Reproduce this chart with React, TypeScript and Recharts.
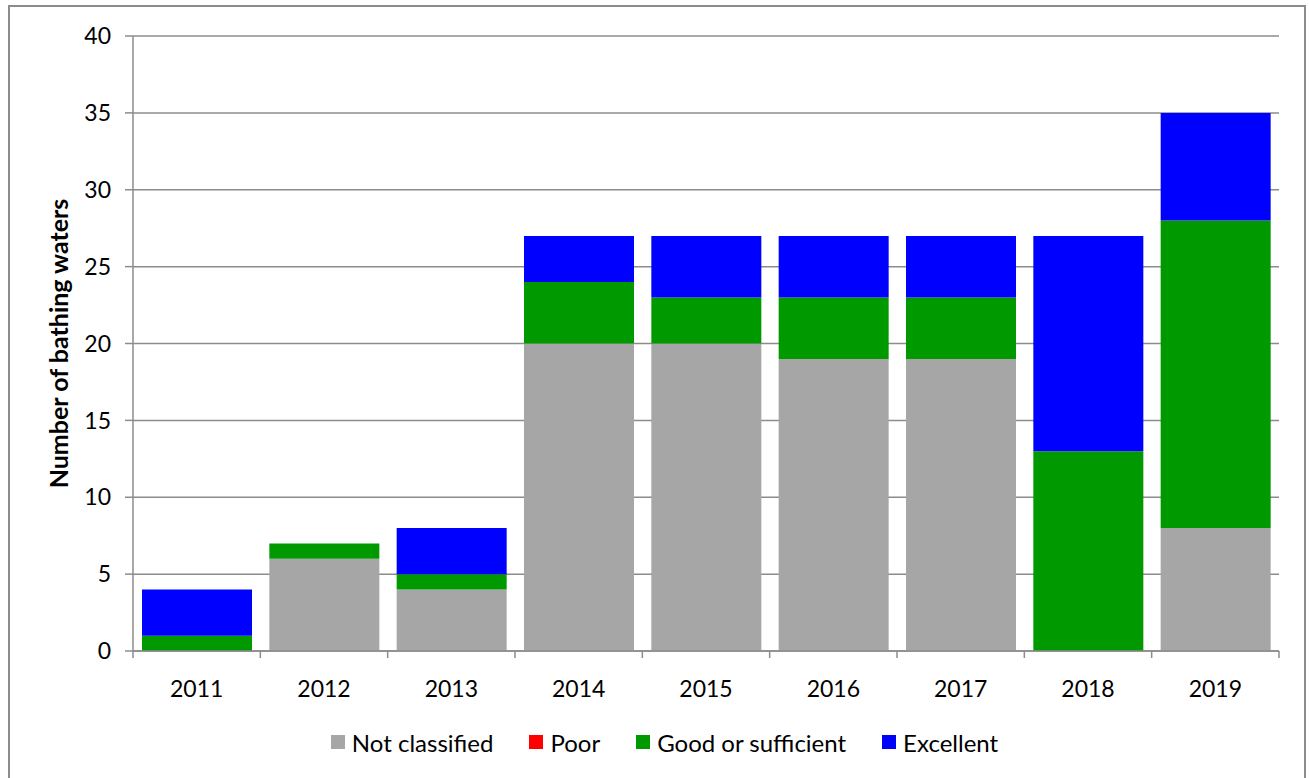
import { BarChart, Bar, XAxis, YAxis, CartesianGrid, Legend } from 'recharts'

const YEARS = ['2011', '2012', '2013', '2014', '2015', '2016', '2017', '2018', '2019']
const NOT_CLASSIFIED = [0, 6, 4, 20, 20, 19, 19, 0, 8]
const POOR = [0, 0, 0, 0, 0, 0, 0, 0, 0]
const GOOD = [1, 1, 1, 4, 3, 4, 4, 13, 20]
const EXCELLENT = [3, 0, 3, 3, 4, 4, 4, 14, 7]
const Y_TICKS = [0, 5, 10, 15, 20, 25, 30, 35, 40]

const SERIES = [
  { key: 'notClassified', name: 'Not classified', color: '#a6a6a6' },
  { key: 'poor', name: 'Poor', color: '#ff0000' },
  { key: 'good', name: 'Good or sufficient', color: '#009900' },
  { key: 'excellent', name: 'Excellent', color: '#0000ff' },
]

const FONT = 'Lato, "Noto Sans", sans-serif'
const AXIS_COLOR = '#8c8c8c'

const CHART_W = 1294
const CHART_H = 771
const MARGIN = { top: 29, right: 25, left: 0, bottom: 21 }
const YAXIS_W = 123
const XAXIS_H = 76
const LEGEND_H = 30
const PLOT_BOTTOM = CHART_H - MARGIN.bottom - LEGEND_H - XAXIS_H
const BAND = (CHART_W - MARGIN.left - MARGIN.right - YAXIS_W) / YEARS.length

const data = YEARS.map((year, i) => ({
  year,
  notClassified: NOT_CLASSIFIED[i],
  poor: POOR[i],
  good: GOOD[i],
  excellent: EXCELLENT[i],
}))

function YearTick({ x, payload, index }: any) {
  const left = x - BAND / 2
  const right = x + BAND / 2
  return (
    <g>
      <line x1={left} x2={left} y1={PLOT_BOTTOM} y2={PLOT_BOTTOM + 7} stroke={AXIS_COLOR} strokeWidth={1.5} />
      {index === YEARS.length - 1 && (
        <line x1={right} x2={right} y1={PLOT_BOTTOM} y2={PLOT_BOTTOM + 7} stroke={AXIS_COLOR} strokeWidth={1.5} />
      )}
      <text x={x} y={PLOT_BOTTOM + 37} textAnchor="middle" dominantBaseline="central" fontSize={23} fill="#000" fontFamily={FONT}>
        {payload.value}
      </text>
    </g>
  )
}

function LegendContent() {
  return (
    <div style={{ height: LEGEND_H, paddingLeft: 40, boxSizing: 'border-box', display: 'flex', justifyContent: 'center', alignItems: 'center', fontFamily: FONT, fontSize: 24, color: '#000' }}>
      {SERIES.map(s => (
        <div key={s.key} style={{ display: 'flex', alignItems: 'center', margin: '0 18px' }}>
          <span style={{ width: 14, height: 14, background: s.color, display: 'inline-block', marginRight: 7 }} />
          <span>{s.name}</span>
        </div>
      ))}
    </div>
  )
}

export default function App() {
  return (
    <div style={{ position: 'fixed', inset: 0, overflow: 'hidden', background: '#fff' }}>
      <div
        style={{
          position: 'absolute',
          left: 8,
          top: 5,
          width: 1298,
          height: 800,
          border: `2px solid ${AXIS_COLOR}`,
          boxSizing: 'border-box',
        }}
      >
        <BarChart width={CHART_W} height={CHART_H} data={data} margin={MARGIN} barSize={110} style={{ fontFamily: FONT }}>
          <CartesianGrid vertical={false} stroke={AXIS_COLOR} strokeWidth={1.5} strokeDasharray="" />
          <XAxis
            dataKey="year"
            height={XAXIS_H}
            axisLine={{ stroke: AXIS_COLOR, strokeWidth: 1.5 }}
            tickLine={false}
            tick={<YearTick />}
            interval={0}
          />
          <YAxis
            width={YAXIS_W}
            domain={[0, 40]}
            ticks={Y_TICKS}
            interval={0}
            tickSize={8}
            tickMargin={14}
            axisLine={{ stroke: AXIS_COLOR, strokeWidth: 1.5 }}
            tickLine={{ stroke: AXIS_COLOR, strokeWidth: 1.5 }}
            tick={{ fontSize: 23, fill: '#000', fontFamily: FONT }}
            label={{
              value: 'Number of bathing waters',
              angle: -90,
              position: 'center',
              dx: -12,
              style: { fontSize: 25, fontWeight: 'bold', fill: '#000', fontFamily: FONT, textAnchor: 'middle' },
            }}
          />
          <Legend verticalAlign="bottom" height={LEGEND_H} content={<LegendContent />} />
          {SERIES.map(s => (
            <Bar key={s.key} dataKey={s.key} name={s.name} stackId="a" fill={s.color} isAnimationActive={false} />
          ))}
        </BarChart>
      </div>
    </div>
  )
}
